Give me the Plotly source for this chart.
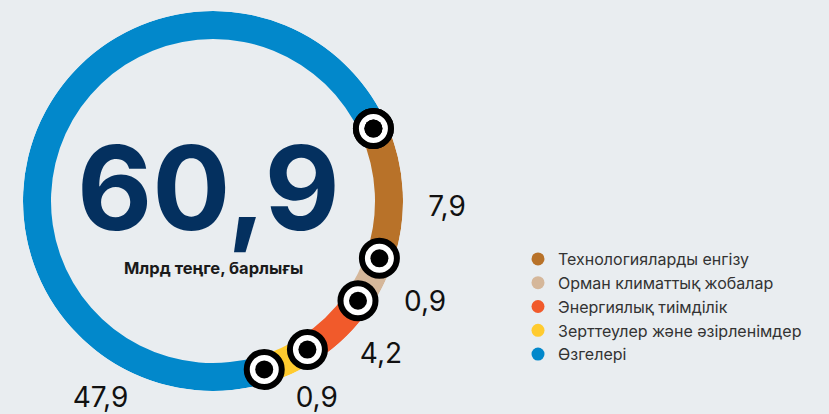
import math
import plotly.graph_objects as go

# ---- data ----
categories = ["Технологияларды енгізу", "Орман климаттық жобалар", "Энергиялық тиімділік",
              "Зерттеулер және әзірленімдер", "Өзгелері"]
values = [7.9, 0.9, 4.2, 0.9, 47.9]
value_labels = ["7,9", "0,9", "4,2", "0,9", "47,9"]
total_label = "60,9"
subtitle = "Млрд теңге, барлығы"

# ---- style ----
colors = ["#B87229", "#D5B79A", "#F15A2B", "#FFCB2F", "#0288CB"]
BG = "#E9EDF0"
W, H = 829, 414
CX, CY = 213, 201          # ring centre in px (from top-left)
R_OUT, R_IN = 190, 162
MIN_DISPLAY = 2.83         # small slices are drawn with a minimum visible arc
ROTATION = 65.7            # start angle of first slice (deg clockwise from top)
LABEL_ANGLES = [91, 115, 132, 152, 210]
LABEL_R = [234, 234, 226, 221, 225]
LABEL_DY = -4

disp = [max(v, MIN_DISPLAY) for v in values]
tot = sum(disp)
spans = [d / tot * 360 for d in disp]
starts = []
acc = ROTATION
for s in spans:
    starts.append(acc)
    acc += s
mids = [a + s / 2 for a, s in zip(starts, spans)]
bounds = starts + [acc]
base = R_IN / R_OUT
rmid = (1 + base) / 2

fig = go.Figure()

# ring
fig.add_trace(go.Barpolar(
    theta=mids, width=spans, r=[1 - base] * len(values), base=base,
    marker=dict(color=colors, line=dict(width=0)), hoverinfo="skip", showlegend=False,
))
# boundary markers
fig.add_trace(go.Scatterpolar(theta=bounds, r=[rmid] * len(bounds), mode="markers",
                              hoverinfo="skip", showlegend=False,
                              marker=dict(size=35, color="white",
                                          line=dict(color="black", width=6))))
fig.add_trace(go.Scatterpolar(theta=bounds, r=[rmid] * len(bounds), mode="markers",
                              hoverinfo="skip", showlegend=False,
                              marker=dict(size=18, color="black")))

# value labels (cartesian px units, centre at 0,0)
lx = [r * math.sin(math.radians(a)) for a, r in zip(LABEL_ANGLES, LABEL_R)]
ly = [r * math.cos(math.radians(a)) + LABEL_DY for a, r in zip(LABEL_ANGLES, LABEL_R)]
fig.add_trace(go.Scatter(x=lx, y=ly, mode="text", text=value_labels, hoverinfo="skip",
                         showlegend=False, cliponaxis=False,
                         textfont=dict(size=28, color="#111111", family="Inter")))

# legend entries
for c, col in zip(categories, colors):
    fig.add_trace(go.Scatter(x=[None], y=[None], mode="markers", name=c,
                             marker=dict(size=13, color=col, symbol="circle")))

# centre text
fig.add_annotation(x=-5, y=13, text=f"<b>{total_label}</b>", showarrow=False,
                   font=dict(size=116, color="#04305F", family="Inter", weight=800),
                   xanchor="center", yanchor="middle")
fig.add_annotation(x=0, y=-67, text=f"<b>{subtitle}</b>", showarrow=False,
                   font=dict(size=16.5, color="#1A1A1A", family="Inter"),
                   xanchor="center", yanchor="middle")

fig.update_layout(
    width=W, height=H, margin=dict(l=0, r=0, t=0, b=0),
    paper_bgcolor=BG, plot_bgcolor="rgba(0,0,0,0)",
    xaxis=dict(range=[-CX, W - CX], visible=False, fixedrange=True),
    yaxis=dict(range=[-(H - CY), CY], visible=False, fixedrange=True),
    polar=dict(
        domain=dict(x=[(CX - R_OUT) / W, (CX + R_OUT) / W],
                    y=[(H - CY - R_OUT) / H, (H - CY + R_OUT) / H]),
        bgcolor="rgba(0,0,0,0)",
        angularaxis=dict(rotation=90, direction="clockwise", visible=False,
                         showgrid=False, showline=False, ticks=""),
        radialaxis=dict(range=[0, 1], visible=False, showgrid=False, showline=False),
        bargap=0,
    ),
    legend=dict(x=518 / W, y=1 - 242 / H, xanchor="left", yanchor="top",
                bgcolor="rgba(0,0,0,0)", font=dict(size=16, color="#333333", family="Inter"),
                itemsizing="trace"),
    showlegend=True,
)

fig.write_html("out.html", config={"displayModeBar": False},
               post_script="document.body.style.margin='0';document.body.style.background='%s';" % BG)
